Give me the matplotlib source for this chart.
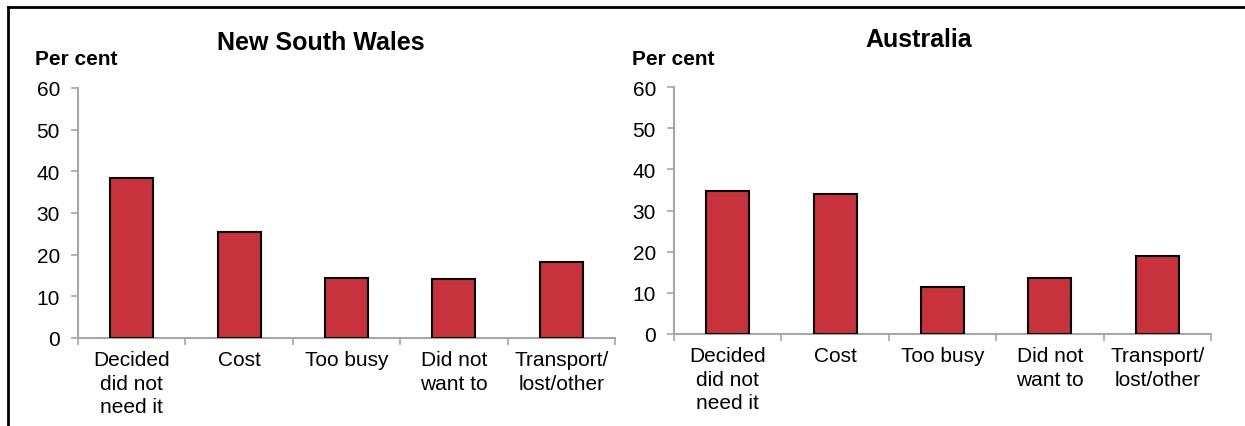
import matplotlib
matplotlib.use('Agg')
import matplotlib.pyplot as plt
from matplotlib.lines import Line2D

plt.rcParams['font.family'] = ['Liberation Sans', 'DejaVu Sans']

categories = ['Decided\ndid not\nneed it', 'Cost', 'Too busy', 'Did not\nwant to', 'Transport/\nlost/other']
nsw_values = [38.4, 25.4, 14.5, 14.2, 18.2]
aus_values = [34.7, 34.0, 11.4, 13.7, 19.0]
yticks = [0, 10, 20, 30, 40, 50, 60]

bar_color = '#C8323C'
axis_color = '#A6A6A6'

W, H = 1245, 427
fig = plt.figure(figsize=(W / 100, H / 100), dpi=100)


def panel(rect, values, title, title_xy, pc_xy):
    ax = fig.add_axes(rect)
    x = range(len(values))
    ax.bar(x, values, width=0.4, color=bar_color, edgecolor='black', linewidth=1.5, zorder=3)
    ax.set_xlim(-0.5, len(values) - 0.5)
    ax.set_ylim(0, 60)
    ax.set_yticks(yticks)
    # major ticks between categories, labels on minor ticks
    ax.set_xticks([i - 0.5 for i in range(len(values) + 1)])
    ax.set_xticklabels([])
    ax.set_xticks(list(x), minor=True)
    ax.set_xticklabels(categories, minor=True, fontsize=15, linespacing=1.28)
    ax.tick_params(axis='x', which='minor', length=0, pad=9)
    ax.tick_params(axis='x', which='major', length=5, color=axis_color, width=1.2)
    ax.tick_params(axis='y', length=5, color=axis_color, width=1.2, labelsize=15, pad=8)
    for s in ['top', 'right']:
        ax.spines[s].set_visible(False)
    for s in ['left', 'bottom']:
        ax.spines[s].set_color(axis_color)
        ax.spines[s].set_linewidth(1.5)
    fig.text(title_xy[0] / W, 1 - title_xy[1] / H, title, fontsize=18, fontweight='bold',
             ha='center', va='center')
    fig.text(pc_xy[0] / W, 1 - pc_xy[1] / H, 'Per cent', fontsize=15, fontweight='bold',
             ha='left', va='center')
    return ax


panel([78 / W, 88 / H, 537 / W, 250 / H], nsw_values, 'New South Wales', (321, 43), (35, 60))
panel([674 / W, 92 / H, 537 / W, 247 / H], aus_values, 'Australia', (919, 40), (632, 60))

# outer frame (top and left edges visible)
fig.add_artist(Line2D([8 / W, 1], [1 - 8 / H, 1 - 8 / H], color='black', linewidth=2, transform=fig.transFigure))
fig.add_artist(Line2D([8 / W, 8 / W], [0, 1 - 8 / H], color='black', linewidth=2, transform=fig.transFigure))

fig.savefig('out.png', dpi=100)
